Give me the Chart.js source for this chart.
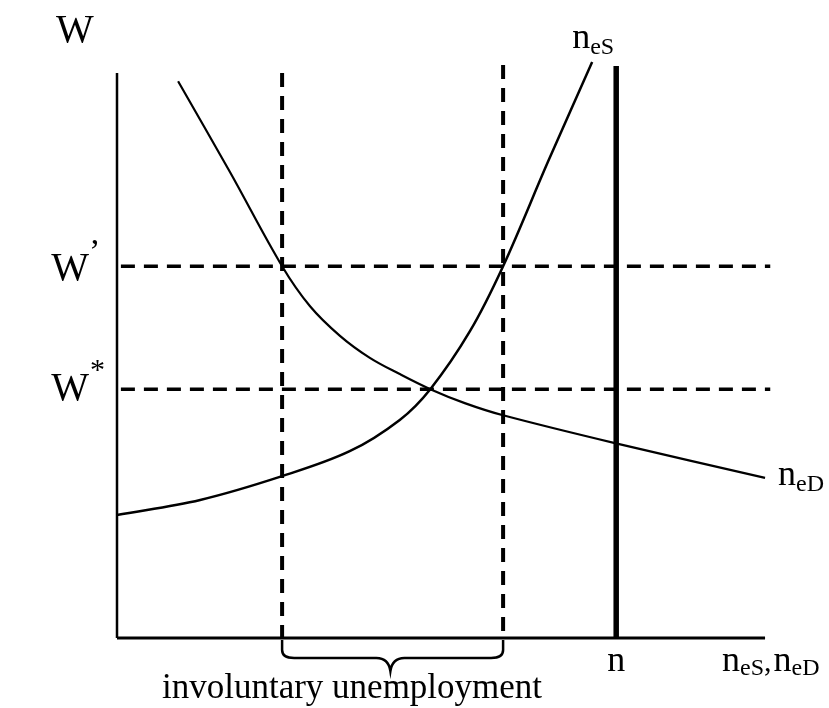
<!DOCTYPE html>
<html>
<head>
<meta charset="utf-8">
<script src="https://cdn.jsdelivr.net/npm/chart.js@4.4.1/dist/chart.umd.min.js"></script>
<style>
  html, body { margin: 0; padding: 0; background: #ffffff; }
  #wrap { width: 829px; height: 708px; }
</style>
</head>
<body>
<div id="wrap"><canvas id="c" width="829" height="708"></canvas></div>
<script>
// ---- Data (abstract units: quantity 0-102, wage 0-100) ----
const demandQty  = [9.4, 17.4, 25.4, 29.7, 34.3, 38.9, 43.5, 48.2, 53.5, 59.4, 76.6, 99.7];
const demandWage = [96.0, 80.3, 64.1, 57.2, 52.1, 48.3, 45.5, 42.9, 40.5, 38.4, 33.6, 27.6];

const supplyQty  = [0, 12.8, 25.4, 35.8, 43.5, 48.2, 54.3, 59.4, 66.3, 73.1];
const supplyWage = [21.2, 23.8, 27.9, 32.2, 37.6, 42.9, 52.9, 64.1, 82.1, 99.3];

const wagePrime = 64.1;      // W'
const wageStar  = 42.9;      // W*
const qtyDemandAtPrime = 25.4;
const qtySupplyAtPrime = 59.4;
const laborForce = 76.8;     // n

const axisTopWage = 97.4;
const axisEndQty = 99.7;
const dashEndQty = 100.5;
const dashTopLeft = 97.4;
const dashTopRight = 98.8;
const laborTop = 98.6;

const wageLabels = ["W", "W", "W"];
const wageMarks = ["", "\u2019", "*"];
const qtyLabels = ["n"];
const curveLabels = ["n", "eS", "n", "eD"];
const axisTitleX = ["n", "eS", ",", "n", "eD"];
const braceLabel = "involuntary unemployment";

const pts = (xs, ys) => xs.map((x, i) => ({ x: x, y: ys[i] }));

const serif = '"Liberation Serif", "DejaVu Serif", serif';

const labelsPlugin = {
  id: 'labels',
  afterDraw(chart) {
    const ctx = chart.ctx;
    const xs = chart.scales.x, ys = chart.scales.y;
    const X = v => xs.getPixelForValue(v);
    const Y = v => ys.getPixelForValue(v);
    const x0 = X(0), y0 = Y(0);
    ctx.save();
    ctx.fillStyle = '#000';
    ctx.textBaseline = 'alphabetic';

    // W (axis title)
    ctx.font = '40px ' + serif;
    ctx.textAlign = 'center';
    ctx.fillText(wageLabels[0], x0 - 42, Y(axisTopWage) - 31);

    // W'
    ctx.textAlign = 'right';
    ctx.fillText(wageLabels[1], x0 - 28, Y(wagePrime) + 14);
    ctx.textAlign = 'left';
    ctx.font = '34px ' + serif;
    ctx.fillText(wageMarks[1], x0 - 28, Y(wagePrime) - 4);

    // W*
    ctx.font = '40px ' + serif;
    ctx.textAlign = 'right';
    ctx.fillText(wageLabels[2], x0 - 28, Y(wageStar) + 11);
    ctx.textAlign = 'left';
    ctx.font = '30px ' + serif;
    ctx.fillText(wageMarks[2], x0 - 27, Y(wageStar) - 10);

    // n under labour force line
    ctx.font = '36px ' + serif;
    ctx.textAlign = 'center';
    ctx.fillText(qtyLabels[0], X(laborForce), y0 + 33);

    // n_eS, n_eD axis title
    let tx = X(axisEndQty) - 43;
    const by = y0 + 33;
    ctx.textAlign = 'left';
    const parts = [[axisTitleX[0], 36, 0], [axisTitleX[1], 24, 4], [axisTitleX[2], 30, 0], [axisTitleX[3], 36, 0], [axisTitleX[4], 24, 4]];
    parts.forEach(p => {
      ctx.font = p[1] + 'px ' + serif;
      ctx.fillText(p[0], tx, by + p[2]);
      tx += ctx.measureText(p[0]).width + (p[0] === ',' ? 2 : 0);
    });

    // n_eS at top of supply curve
    const sx = X(supplyQty[supplyQty.length - 1]);
    const sy = Y(supplyWage[supplyWage.length - 1]);
    ctx.font = '36px ' + serif;
    ctx.fillText(curveLabels[0], sx - 20, sy - 14);
    let w = ctx.measureText(curveLabels[0]).width;
    ctx.font = '24px ' + serif;
    ctx.fillText(curveLabels[1], sx - 20 + w, sy - 8);

    // n_eD at end of demand curve
    const dx = X(demandQty[demandQty.length - 1]);
    const dy = Y(demandWage[demandWage.length - 1]);
    ctx.font = '36px ' + serif;
    ctx.fillText(curveLabels[2], dx + 13, dy + 7);
    w = ctx.measureText(curveLabels[2]).width;
    ctx.font = '24px ' + serif;
    ctx.fillText(curveLabels[3], dx + 13 + w, dy + 13);

    // Brace
    const bl = X(qtyDemandAtPrime), br = X(qtySupplyAtPrime);
    const bm = bl + (br - bl) * 0.49;
    const top = y0 + 2, hy = y0 + 20, tip = y0 + 33;
    ctx.strokeStyle = '#000';
    ctx.lineWidth = 2.5;
    ctx.beginPath();
    ctx.moveTo(bl, top);
    ctx.lineTo(bl, hy - 8);
    ctx.quadraticCurveTo(bl, hy, bl + 12, hy);
    ctx.lineTo(bm - 14, hy);
    ctx.quadraticCurveTo(bm - 2, hy, bm, tip);
    ctx.quadraticCurveTo(bm + 2, hy, bm + 14, hy);
    ctx.lineTo(br - 12, hy);
    ctx.quadraticCurveTo(br, hy, br, hy - 8);
    ctx.lineTo(br, top);
    ctx.stroke();

    ctx.font = '35px ' + serif;
    ctx.textAlign = 'left';
    ctx.fillText(braceLabel, x0 + 45, y0 + 60);
    ctx.restore();
  }
};

const lineDs = (data, opts) => Object.assign({
  data: data, showLine: true, pointRadius: 0, borderColor: '#000',
  backgroundColor: '#000', fill: false, clip: false, tension: 0
}, opts);

new Chart(document.getElementById('c'), {
  type: 'scatter',
  data: {
    datasets: [
      lineDs(pts([0, 0], [0, axisTopWage]), { borderWidth: 2.5 }),
      lineDs(pts([0, axisEndQty], [0, 0]), { borderWidth: 3 }),
      lineDs(pts([0.6, dashEndQty], [wagePrime, wagePrime]), { borderWidth: 3.5, borderDash: [14, 9] }),
      lineDs(pts([0.6, dashEndQty], [wageStar, wageStar]), { borderWidth: 3.5, borderDash: [14, 9] }),
      lineDs(pts([qtyDemandAtPrime, qtyDemandAtPrime], [dashTopLeft, 0]), { borderWidth: 4, borderDash: [14, 9] }),
      lineDs(pts([qtySupplyAtPrime, qtySupplyAtPrime], [dashTopRight, 1]), { borderWidth: 4, borderDash: [14, 9] }),
      lineDs(pts([laborForce, laborForce], [0, laborTop]), { borderWidth: 5.5 }),
      lineDs(pts(demandQty, demandWage), { borderWidth: 2.2, tension: 0.35 }),
      lineDs(pts(supplyQty, supplyWage), { borderWidth: 2.5, tension: 0.35 })
    ]
  },
  options: {
    responsive: false,
    animation: false,
    events: [],
    layout: { padding: { left: 117, right: 49, top: 58, bottom: 70 } },
    plugins: { legend: { display: false }, tooltip: { enabled: false } },
    scales: {
      x: { type: 'linear', display: false, min: 0, max: 102 },
      y: { type: 'linear', display: false, min: 0, max: 100 }
    }
  },
  plugins: [labelsPlugin]
});
</script>
</body>
</html>
